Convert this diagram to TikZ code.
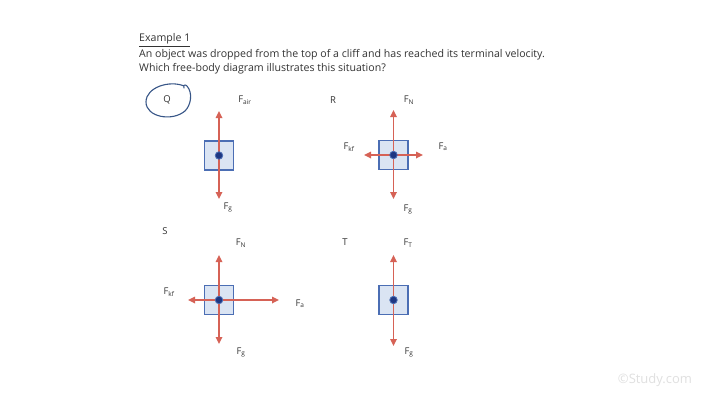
\documentclass[tikz,border=0pt]{standalone}
\usepackage{fontspec}
\setmainfont{Open Sans}
\usetikzlibrary{arrows.meta}
\definecolor{txt}{RGB}{51,51,51}
\definecolor{frc}{RGB}{214,98,86}
\definecolor{bdy}{RGB}{75,110,180}
\definecolor{bdyfill}{RGB}{218,228,243}
\definecolor{dotc}{RGB}{30,55,130}
\definecolor{pen}{RGB}{55,85,135}
\tikzset{
  body/.style={draw=bdy, fill=bdyfill, line width=1.8pt, minimum size=29pt, inner sep=0pt},
  centredot/.style={circle, draw=bdy, fill=dotc, line width=0.8pt, minimum size=7.5pt, inner sep=0pt},
  force/.style={frc, line width=1.6pt, -{Triangle[length=7pt,width=6.5pt]}},
  flabel/.style={txt, font=\fontsize{9.3}{11}\selectfont, inner sep=0pt},
  optlabel/.style={txt, font=\fontsize{9.5}{11}\selectfont, inner sep=0pt},
  line/.style={txt, anchor=west, inner sep=0pt, font=\fontsize{10.6}{12}\selectfont}
}
% box and dot of one diagram
\newcommand{\drawbody}[3]{\node[body] (#1) at (#2,#3) {};}
\newcommand{\drawdot}[1]{\node[centredot] (#1dot) at (#1.center) {};}

\begin{document}
\begin{tikzpicture}[x=1pt,y=-1pt]
\useasboundingbox[fill=white] (0,0) rectangle (715,402);

% question
\node[line] (title) at (139,40) {\underline{Example 1}};
\node[line] (qa) at (139,55) {An object was dropped from the top of a cliff and has reached its terminal velocity.};
\node[line] (qb) at (139,68.5) {Which free-body diagram illustrates this situation?};

% Q
\node[optlabel] (optQ) at (167,100) {Q};
\draw[pen, line width=1.1pt, line cap=round] (184,86) .. controls (170,80) and (146,87) .. (146,102)
  .. controls (146,117) and (172,122) .. (185,111) .. controls (191,105) and (193,93) .. (187,86)
  .. controls (185,84) and (183,85) .. (184,88);
\drawbody{boxQ}{219}{155.5}
\coordinate (upQ) at (219,111);
\coordinate (downQ) at (219,199);
\draw[force] (boxQ.center) -- (upQ);
\draw[force] (boxQ.center) -- (downQ);
\drawdot{boxQ}
\node[flabel] (airQ) at (245,100) {F\textsubscript{air}};
\node[flabel] (gQ) at (228,207) {F\textsubscript{g}};

% R
\node[optlabel] (optR) at (333,100) {R};
\drawbody{boxR}{393.5}{155}
\coordinate (upR) at (393.5,110);
\coordinate (downR) at (393.5,199);
\coordinate (leftR) at (364,155);
\coordinate (rightR) at (423,155);
\draw[force] (boxR.center) -- (upR);
\draw[force] (boxR.center) -- (downR);
\draw[force] (boxR.center) -- (leftR);
\draw[force] (boxR.center) -- (rightR);
\drawdot{boxR}
\node[flabel] (nR) at (409,100) {F\textsubscript{N}};
\node[flabel] (kfR) at (349,147) {F\textsubscript{kf}};
\node[flabel] (aR) at (443,147) {F\textsubscript{a}};
\node[flabel] (gR) at (408,209) {F\textsubscript{g}};

% S
\node[optlabel] (optS) at (165,231) {S};
\drawbody{boxS}{219}{300}
\coordinate (upS) at (219,255);
\coordinate (downS) at (219,344);
\coordinate (leftS) at (188,300);
\coordinate (rightS) at (279,300);
\draw[force] (boxS.center) -- (upS);
\draw[force] (boxS.center) -- (downS);
\draw[force] (boxS.center) -- (leftS);
\draw[force] (boxS.center) -- (rightS);
\drawdot{boxS}
\node[flabel] (nS) at (241,243) {F\textsubscript{N}};
\node[flabel] (kfS) at (169,292) {F\textsubscript{kf}};
\node[flabel] (aS) at (300,304) {F\textsubscript{a}};
\node[flabel] (gS) at (241,352) {F\textsubscript{g}};

% T
\node[optlabel] (optT) at (345,242) {T};
\drawbody{boxT}{393.5}{300}
\coordinate (upT) at (393.5,255);
\coordinate (downT) at (393.5,346);
\draw[force] (boxT.center) -- (upT);
\draw[force] (boxT.center) -- (downT);
\drawdot{boxT}
\node[flabel] (tT) at (408,243) {F\textsubscript{T}};
\node[flabel] (gT) at (409,352) {F\textsubscript{g}};

% watermark
\node[black!12, font=\fontsize{13}{15}\selectfont, inner sep=0pt] (mark) at (655,380) {©Study.com};
\end{tikzpicture}
\end{document}
